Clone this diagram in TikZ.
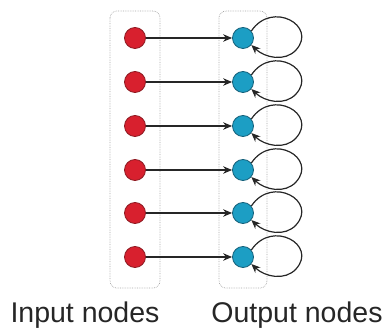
\documentclass[tikz,border=0pt]{standalone}
\usepackage{fontspec}
\setmainfont{Liberation Sans}
\usetikzlibrary{arrows.meta}
\definecolor{inred}{HTML}{D8202E}
\definecolor{inredd}{HTML}{8E1A22}
\definecolor{outblue}{HTML}{1C9EC4}
\definecolor{outblued}{HTML}{15607A}
\definecolor{boxgray}{HTML}{A8A8A8}
\begin{document}
\begin{tikzpicture}[x=1pt,y=-1pt,
  innode/.style={circle,fill=inred,draw=inredd,line width=0.8pt,minimum size=21pt,inner sep=0pt},
  outnode/.style={circle,fill=outblue,draw=outblued,line width=0.8pt,minimum size=21pt,inner sep=0pt},
  group/.style={draw=boxgray,densely dotted,line width=0.7pt,rounded corners=7pt},
  link/.style={draw=black!85,line width=1.2pt,-{Stealth[length=9pt,width=7.5pt]}},
  lbl/.style={font=\fontsize{28.5}{32}\selectfont,text=black!85}]
\useasboundingbox (0,0) rectangle (388,336);
\draw[group] (110,11) rectangle (160,288);
\draw[group] (219,11) rectangle (267,288);
\foreach \i/\y in {1/38,2/82,3/126,4/170,5/213,6/257}{
  \node[innode] (in\i) at (135,\y) {};
  \node[outnode] (out\i) at (243,\y) {};
  \draw[link] (in\i) -- (out\i);
  \draw[link] (out\i.40) .. controls (272,\y-38) and (318,\y-12) .. (296,\y+12) .. controls (285,\y+24) and (265,\y+20) .. (out\i.-40);
}
\node[lbl] (inlbl) at (85,315) {Input nodes};
\node[lbl] (outlbl) at (297,315) {Output nodes};
\end{tikzpicture}
\end{document}
